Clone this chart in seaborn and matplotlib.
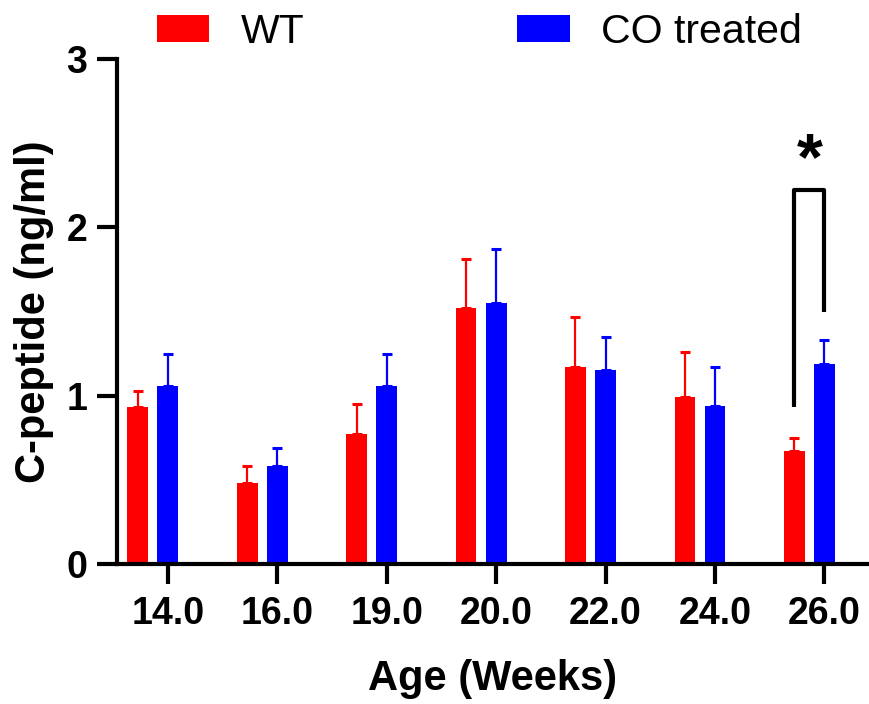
import matplotlib
matplotlib.use("Agg")
import matplotlib.pyplot as plt
import seaborn as sns
import numpy as np
import pandas as pd

# ---- data ----
ages = ["14.0", "16.0", "19.0", "20.0", "22.0", "24.0", "26.0"]
groups = ["WT", "CO treated"]
wt_mean = [0.93, 0.48, 0.77, 1.52, 1.17, 0.99, 0.67]
wt_err = [0.10, 0.10, 0.18, 0.29, 0.30, 0.27, 0.08]
co_mean = [1.06, 0.58, 1.06, 1.55, 1.15, 0.94, 1.19]
co_err = [0.19, 0.11, 0.19, 0.32, 0.20, 0.23, 0.14]
colors = {"WT": "#FF0000", "CO treated": "#0000FF"}
sig_label = "*"

df = pd.DataFrame({
    "Age": ages * 2,
    "Group": ["WT"] * len(ages) + ["CO treated"] * len(ages),
    "Value": wt_mean + co_mean,
    "Err": wt_err + co_err,
})

sns.set_style("ticks")
plt.rcParams["font.family"] = ["Liberation Sans", "DejaVu Sans"]
plt.rcParams.update({"text.color": "black", "axes.labelcolor": "black",
                     "xtick.color": "black", "ytick.color": "black",
                     "axes.edgecolor": "black"})

fig = plt.figure(figsize=(8.7, 7.04), dpi=100)
ax = fig.add_axes([117 / 870, 1 - 564 / 704, 1 - 117 / 870 - 0.002, (564 - 59) / 704])

sns.barplot(data=df, x="Age", y="Value", hue="Group", order=ages,
            hue_order=groups, palette=colors, width=0.55, gap=0.31,
            errorbar=None, linewidth=0, saturation=1, ax=ax)

# error bars (upward only), using bar geometry from the plot
cen = {}
for g, means, errs in [("WT", wt_mean, wt_err), ("CO treated", co_mean, co_err)]:
    cont = ax.containers[groups.index(g)]
    xs = [b.get_x() + b.get_width() / 2 for b in cont]
    cen[g] = xs
    ax.errorbar(xs, means, yerr=[np.zeros(len(errs)), errs], fmt="none",
                ecolor=colors[g], elinewidth=1.6, capsize=3.6, capthick=2.2,
                zorder=1)

# significance bracket at last category
i = len(ages) - 1
xl, xr = cen["WT"][i], cen["CO treated"][i]
ytop = 2.22
ax.plot([xl, xl, xr, xr], [0.93, ytop, ytop, 1.5], color="black", lw=3,
        solid_joinstyle="round", solid_capstyle="butt", clip_on=False)
ax.text((xl + xr) / 2, 2.39, sig_label, ha="center", va="center",
        fontsize=48, fontweight="bold", color="black")

ax.set_ylim(0, 3)
ax.set_yticks([0, 1, 2, 3])
ax.set_yticklabels(["0", "1", "2", "3"])
ax.set_xticks(np.array(cen["CO treated"]))
ax.set_xticklabels(ages)
ax.set_xlim(cen["CO treated"][0] - 0.464, cen["CO treated"][-1] + 0.40)

for s in ["top", "right"]:
    ax.spines[s].set_visible(False)
for s in ["left", "bottom"]:
    ax.spines[s].set_linewidth(3)
    ax.spines[s].set_color("black")

ax.tick_params(axis="both", which="major", bottom=True, left=True,
               length=14.4, width=3, color="black", labelsize=27)
ax.tick_params(axis="y", pad=7)
ax.tick_params(axis="x", pad=9)
for lab in ax.get_xticklabels() + ax.get_yticklabels():
    lab.set_fontweight("bold")

ax.set_xlabel("Age (Weeks)", fontsize=30, fontweight="bold", labelpad=19)
ax.set_ylabel("C-peptide (ng/ml)", fontsize=30, fontweight="bold", labelpad=9)

sns.move_legend(ax, "center left", bbox_to_anchor=(157 / 870, 1 - 32 / 704),
                bbox_transform=fig.transFigure, ncol=2, frameon=False,
                title=None, fontsize=29.5, handlelength=1.28, handleheight=0.65,
                handletextpad=0.77, columnspacing=5.19, borderpad=0,
                borderaxespad=0)

fig.savefig("out.png", dpi=100)
